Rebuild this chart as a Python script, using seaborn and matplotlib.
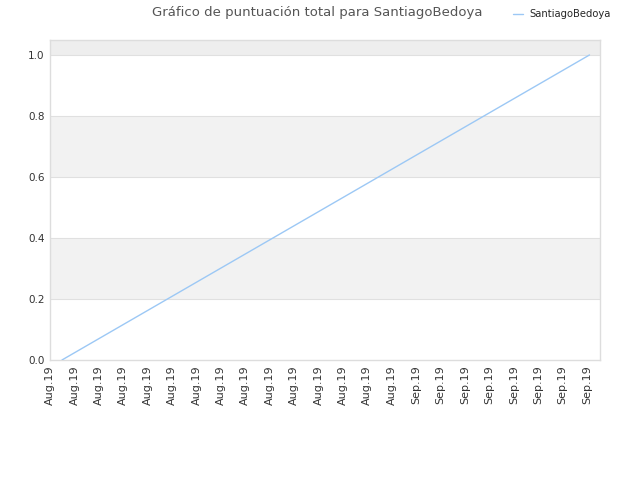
import matplotlib
matplotlib.use("Agg")
import matplotlib.pyplot as plt
import seaborn as sns
import pandas as pd

# ------------------------------------------------------------
# data
# ------------------------------------------------------------
player = "SantiagoBedoya"
x_pos = [0.49, 22.1]
score = [0.0, 1.0]
tick_labels = ["Aug.19"] * 15 + ["Sep.19"] * 8
y_ticks = [0.0, 0.2, 0.4, 0.6, 0.8, 1.0]

df = pd.DataFrame({"x": x_pos, "score": score, "jugador": player})

# ------------------------------------------------------------
# plot
# ------------------------------------------------------------
sns.set_style("white")
plt.rcParams["font.family"] = ["DejaVu Sans"]

fig = plt.figure(figsize=(6.4, 4.8), dpi=100)
ax = fig.add_axes([50 / 640, 120 / 480, 550 / 640, 320 / 480])

# bandas alternas
for lo, hi in [(0.2, 0.4), (0.6, 0.8)]:
    ax.axhspan(lo, hi, color="#f2f2f2", zorder=0, lw=0)
ax.axhspan(1.0, 1.2, color="#eeeeee", zorder=0, lw=0)
for yv in y_ticks[1:]:
    ax.axhline(yv, color="#e0e0e0", lw=0.8, zorder=1)

sns.lineplot(data=df, x="x", y="score", hue="jugador", palette=["#9cc8f5"],
             lw=1, ax=ax, zorder=3)

ax.set_xlim(0.04, 22.53)
ax.set_ylim(0, 1.049)
ax.set_xticks(range(len(tick_labels)))
ax.set_xticklabels(tick_labels, rotation=90, fontsize=8, color="#333333")
ax.set_yticks(y_ticks)
ax.set_yticklabels([f"{v:.1f}" for v in y_ticks], fontsize=7.5, color="#333333")
ax.tick_params(length=0, pad=4)
ax.set_xlabel("")
ax.set_ylabel("")
for s in ax.spines.values():
    s.set_color("#dddddd")
    s.set_linewidth(1)

fig.text(0.495, 0.973, "Gráfico de puntuación total para SantiagoBedoya",
         ha="center", va="center", fontsize=9.5, color="#555555")

ax.legend(loc="center", bbox_to_anchor=(562 / 640, 0.97),
          bbox_transform=fig.transFigure, frameon=False, fontsize=7.2,
          handlelength=1.0, handletextpad=0.6, title=None)

plt.savefig("out.png", dpi=100)
